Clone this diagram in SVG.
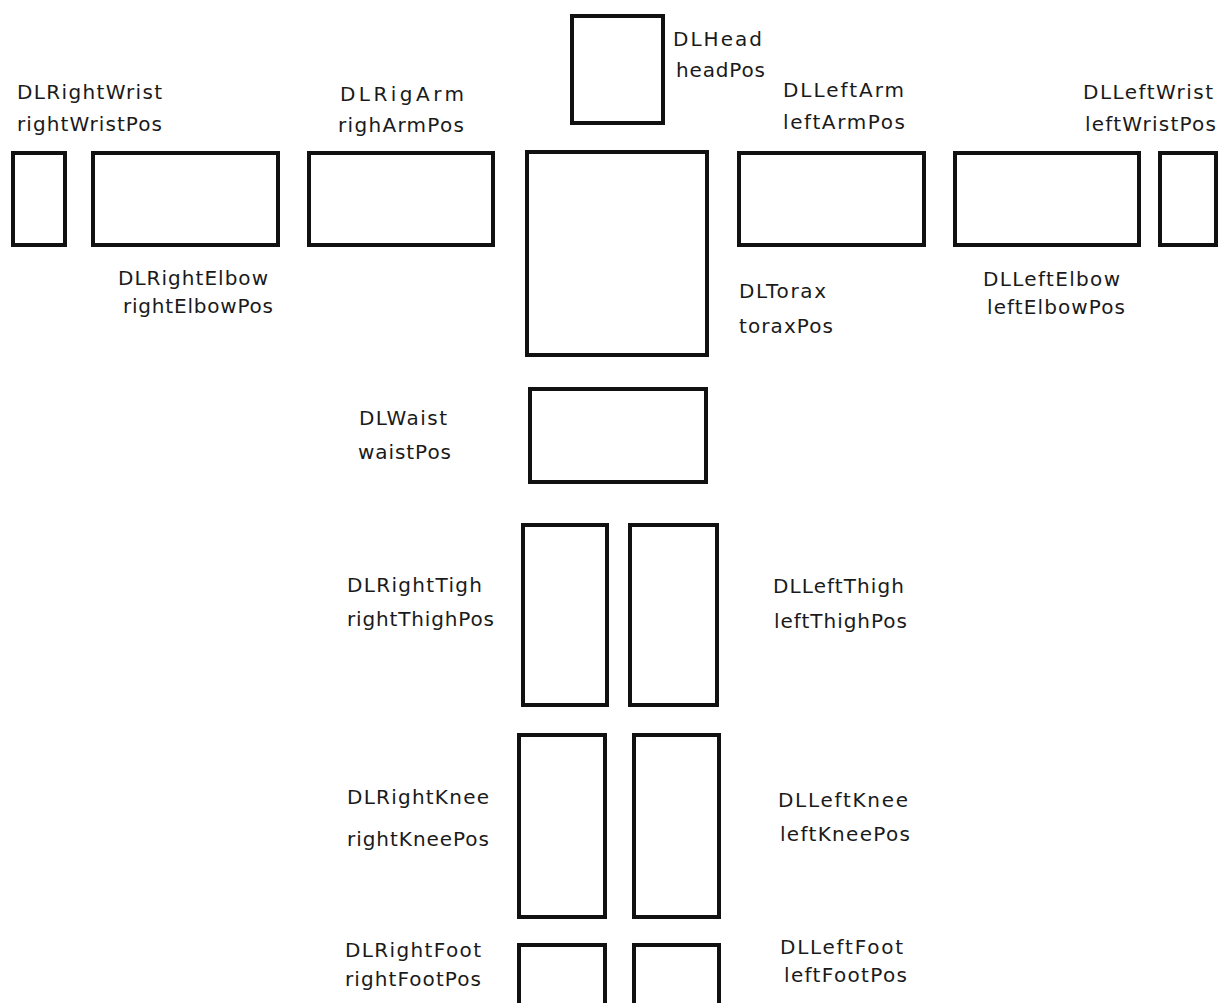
<svg xmlns="http://www.w3.org/2000/svg" width="1219" height="1003" viewBox="0 0 1219 1003">
<style>
.b{fill:#fff;stroke:#111;stroke-width:4}
.t{font-family:"DejaVu Sans","Liberation Sans",sans-serif;font-size:20px;fill:#1a1a1a}
</style>
<rect width="1219" height="1003" fill="#fff"/>
<g id="connectors"/>
<g id="head"><rect class="b" x="572" y="16" width="91" height="107"/>
<text class="t" x="673" y="46" textLength="89">DLHead</text>
<text class="t" x="676" y="77" textLength="89">headPos</text></g>
<g id="rightWrist"><rect class="b" x="13" y="153" width="52" height="92"/>
<text class="t" x="17" y="99" textLength="145">DLRightWrist</text>
<text class="t" x="17" y="131" textLength="145">rightWristPos</text></g>
<g id="rightElbow"><rect class="b" x="93" y="153" width="185" height="92"/>
<text class="t" x="118" y="285" textLength="150">DLRightElbow</text>
<text class="t" x="123" y="313" textLength="150">rightElbowPos</text></g>
<g id="rightArm"><rect class="b" x="309" y="153" width="184" height="92"/>
<text class="t" x="340" y="101" textLength="124">DLRigArm</text>
<text class="t" x="338" y="132" textLength="126">righArmPos</text></g>
<g id="torax"><rect class="b" x="527" y="152" width="180" height="203"/>
<text class="t" x="739" y="298" textLength="87">DLTorax</text>
<text class="t" x="739" y="333" textLength="94">toraxPos</text></g>
<g id="leftArm"><rect class="b" x="739" y="153" width="185" height="92"/>
<text class="t" x="783" y="97" textLength="121">DLLeftArm</text>
<text class="t" x="783" y="129" textLength="122">leftArmPos</text></g>
<g id="leftElbow"><rect class="b" x="955" y="153" width="184" height="92"/>
<text class="t" x="983" y="286" textLength="137">DLLeftElbow</text>
<text class="t" x="987" y="314" textLength="138">leftElbowPos</text></g>
<g id="leftWrist"><rect class="b" x="1160" y="153" width="56" height="92"/>
<text class="t" x="1083" y="99" textLength="130">DLLeftWrist</text>
<text class="t" x="1085" y="131" textLength="131">leftWristPos</text></g>
<g id="waist"><rect class="b" x="530" y="389" width="176" height="93"/>
<text class="t" x="359" y="425" textLength="88">DLWaist</text>
<text class="t" x="358" y="459" textLength="93">waistPos</text></g>
<g id="rightThigh"><rect class="b" x="523" y="525" width="84" height="180"/>
<text class="t" x="347" y="592" textLength="135">DLRightTigh</text>
<text class="t" x="347" y="626" textLength="147">rightThighPos</text></g>
<g id="leftThigh"><rect class="b" x="630" y="525" width="87" height="180"/>
<text class="t" x="773" y="593" textLength="131">DLLeftThigh</text>
<text class="t" x="774" y="628" textLength="133">leftThighPos</text></g>
<g id="rightKnee"><rect class="b" x="519" y="735" width="86" height="182"/>
<text class="t" x="347" y="804" textLength="142">DLRightKnee</text>
<text class="t" x="347" y="846" textLength="142">rightKneePos</text></g>
<g id="leftKnee"><rect class="b" x="634" y="735" width="85" height="182"/>
<text class="t" x="778" y="807" textLength="130">DLLeftKnee</text>
<text class="t" x="780" y="841" textLength="130">leftKneePos</text></g>
<g id="rightFoot"><rect class="b" x="519" y="945" width="86" height="70"/>
<text class="t" x="345" y="957" textLength="136">DLRightFoot</text>
<text class="t" x="345" y="986" textLength="136">rightFootPos</text></g>
<g id="leftFoot"><rect class="b" x="634" y="945" width="85" height="70"/>
<text class="t" x="780" y="954" textLength="123">DLLeftFoot</text>
<text class="t" x="784" y="982" textLength="123">leftFootPos</text></g>
</svg>
